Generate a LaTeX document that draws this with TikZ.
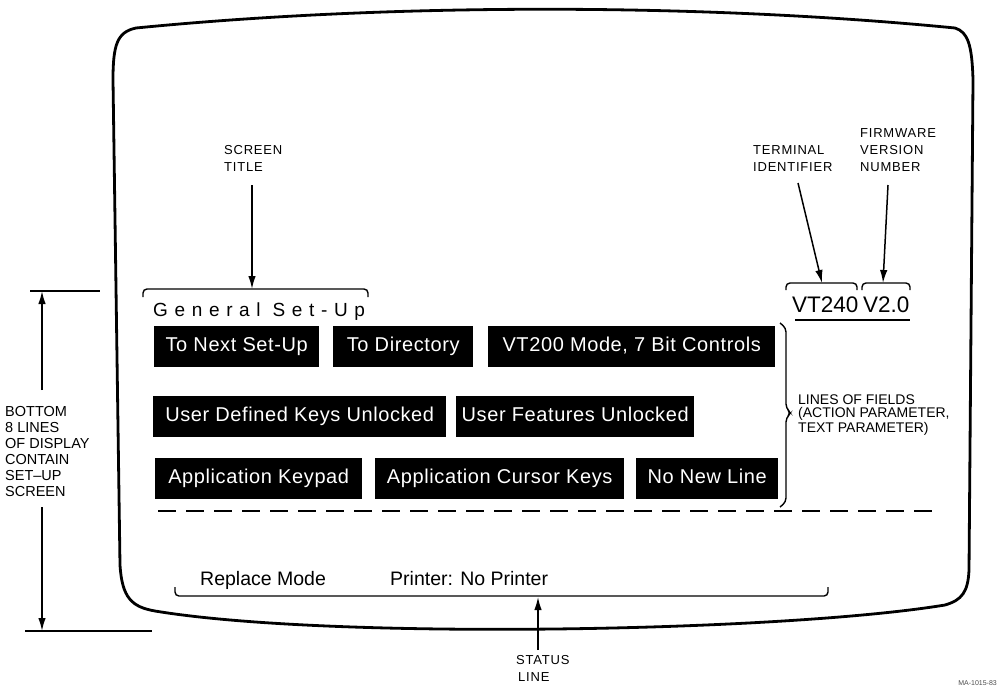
\documentclass[tikz,border=0pt]{standalone}
\usepackage{fontspec}
\setmainfont{Liberation Sans}
\usetikzlibrary{arrows.meta}
\begin{document}
\begin{tikzpicture}[x=1pt,y=-1pt,
  arr/.style={line width=1.5pt,-{Latex[length=13pt,width=7.5pt]}},
  brk/.style={line width=1.4pt,rounded corners=4pt},
  field/.style={fill=black,text=white,anchor=north west,inner sep=0pt,
     minimum height=41pt,text height=14.5pt,text depth=4pt,
     font=\fontsize{20}{22}\selectfont\addfontfeature{LetterSpace=3}},
  lbl/.style={anchor=north west,inner sep=0pt,align=left},
  small/.style={font=\fontsize{13}{17}\selectfont\addfontfeature{LetterSpace=6}}]
\useasboundingbox (0,0) rectangle (1000,688);
% screen outline
\draw[line width=2.8pt,line join=round]
  (120,565) -- (113,80)
  .. controls (113,45) and (117,32) .. (136,28)
  .. controls (390,3) and (700,3) .. (955,28)
  .. controls (968,32) and (972,45) .. (973,80)
  -- (969,570)
  .. controls (968,592) and (962,600) .. (945,605)
  .. controls (780,632) and (330,640) .. (155,611)
  .. controls (132,607) and (122,598) .. (120,565) -- cycle;
% labels
\node[lbl,small] (stitle) at (224,145) {SCREEN\\TITLE};
\node[lbl,small] (termid) at (753,145) {TERMINAL\\IDENTIFIER};
\node[lbl,small] (fwver) at (860,128) {FIRMWARE\\VERSION\\NUMBER};
\node[lbl,font=\fontsize{14}{13}\selectfont] (lof) at (798,395) {LINES OF FIELDS\\(ACTION PARAMETER,\\TEXT PARAMETER)};
\node[lbl,font=\fontsize{14.5}{16}\selectfont] (bottom) at (5,406) {BOTTOM\\8 LINES\\OF DISPLAY\\CONTAIN\\SET--UP\\SCREEN};
\node[lbl,small] (status) at (516,655) {STATUS\\\hspace*{2pt}LINE};
% title
\node[anchor=base west,inner sep=0pt,font=\fontsize{19}{22}\selectfont\addfontfeature{LetterSpace=35}] (gtitle) at (153,316) {General Set-Up};
\node[anchor=base west,inner sep=0pt,font=\fontsize{22.5}{26}\selectfont] (vt) at (792,312) {VT240};
\node[anchor=base west,inner sep=0pt,font=\fontsize{22.5}{26}\selectfont] (ver) at (863,312) {V2.0};
% fields
\node[field,minimum width=165pt] (f1) at (154,326) {To Next Set-Up};
\node[field,minimum width=140pt] (f2) at (333,326) {To Directory};
\node[field,minimum width=287pt] (f3) at (488,326) {VT200 Mode, 7 Bit Controls};
\node[field,minimum width=293pt] (f4) at (153,396) {User Defined Keys Unlocked};
\node[field,minimum width=238pt] (f5) at (456,396) {User Features Unlocked};
\node[field,minimum width=207pt] (f6) at (155,458) {Application Keypad};
\node[field,minimum width=249pt] (f7) at (375,458) {Application Cursor Keys};
\node[field,minimum width=142pt] (f8) at (636,458) {No New Line};
% status line
\node[anchor=base west,inner sep=0pt,font=\fontsize{19.5}{22}\selectfont] (rm) at (200,585) {Replace Mode};
\node[anchor=base west,inner sep=0pt,font=\fontsize{19.5}{22}\selectfont] (pr) at (390,585) {Printer: No Printer};
% brackets
\draw[brk] (143,297) -- (143,289) -- (368,289) -- (368,297);
\coordinate (gtip) at (252,289);
\draw[brk] (786,290) -- (786,283) -- (857,283) -- (857,290);
\coordinate (vttip) at (822,283);
\draw[brk] (862,290) -- (862,283) -- (910,283) -- (910,290);
\coordinate (vertip) at (883,283);
\draw[line width=1.4pt] (795,320) -- (910,320);
\draw[line width=1.4pt,rounded corners=4pt] (780,323) -- (786,328) -- (786,408) -- (791,413) -- (786,418) -- (786,502) -- (780,507);
\draw[brk] (175,587) -- (175,596) -- (828,596) -- (828,587);
\coordinate (sttip) at (538,597);
% dashed separator
\draw[line width=1.6pt,dash pattern=on 18pt off 10pt] (158,511) -- (935,511);
% arrows
\coordinate (a1) at (252,185);
\draw[arr] (a1) -- (gtip);
\coordinate (a2) at (798,183);
\draw[arr] (a2) -- (vttip);
\coordinate (a3) at (888,185);
\draw[arr] (a3) -- (vertip);
\coordinate (a4) at (538,650);
\draw[arr] (a4) -- (sttip);
% dimension
\coordinate (dt) at (42,291);
\coordinate (db) at (42,631);
\draw[line width=1.4pt] (30,291) -- (100,291);
\draw[line width=1.4pt] (25,631) -- (152,631);
\coordinate (d1) at (42,390);
\coordinate (d2) at (42,507);
\draw[arr] (d1) -- (dt);
\draw[arr] (d2) -- (db);
% drawing number
\node[anchor=base east,inner sep=0pt,font=\fontsize{7}{8}\selectfont,text=black!70] (mano) at (997,685) {MA-1015-83};
\end{tikzpicture}
\end{document}
